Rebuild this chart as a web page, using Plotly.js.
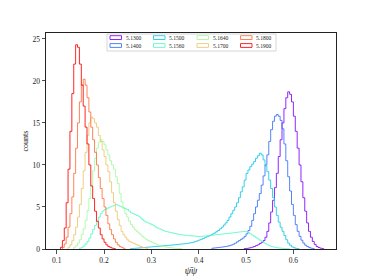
<!DOCTYPE html>
<html>
<head>
<meta charset="utf-8">
<script src="https://cdn.plot.ly/plotly-3.0.1.min.js"></script>
<style>html,body{margin:0;padding:0;background:#fff;}#chart{width:374px;height:280px;}</style>
</head>
<body>
<div id="chart"></div>
<script>
// ---- data (histogram counts, bin width shared) ----
const binWidth = 0.004;
const labels = ['5.1300', '5.1400', '5.1500', '5.1560', '5.1640', '5.1700', '5.1800', '5.1900'];
const colors = ['#8000ff', '#376ff9', '#12c8e6', '#5bf9c7', '#a4f99f', '#edc76f', '#ff6f39', '#ff0000'];
const binStarts = [0.496, 0.428, 0.256, 0.148, 0.136, 0.124, 0.112, 0.108];

const counts_5130 = [0.05, 0.07, 0.1, 0.16, 0.22, 0.3, 0.4, 0.5, 0.65, 0.8, 1.0, 1.4, 2.1, 3.1, 4.4, 5.8, 7.3, 9.0, 11.0, 13.0, 15.0, 16.7, 18.0, 18.7, 18.4, 17.5, 15.8, 14.0, 12.0, 10.0, 8.0, 6.1, 4.5, 3.1, 2.1, 1.4, 0.9, 0.55, 0.3, 0.18, 0.1, 0.05];
const counts_5140 = [0.1, 0.12, 0.15, 0.18, 0.2, 0.23, 0.27, 0.3, 0.35, 0.4, 0.48, 0.58, 0.7, 0.85, 1.0, 1.15, 1.3, 1.5, 1.8, 2.2, 2.7, 3.4, 4.2, 5.0, 5.8, 6.6, 7.6, 8.7, 10.0, 11.2, 12.8, 14.2, 15.2, 15.8, 16.0, 15.8, 15.3, 14.3, 12.5, 10.5, 8.6, 6.9, 5.3, 4.0, 2.9, 2.1, 1.5, 1.05, 0.7, 0.45, 0.3, 0.18, 0.1, 0.05];
const counts_5150 = [0.05, 0.07, 0.08, 0.1, 0.12, 0.14, 0.16, 0.18, 0.2, 0.22, 0.24, 0.26, 0.28, 0.3, 0.32, 0.34, 0.36, 0.38, 0.4, 0.42, 0.44, 0.46, 0.48, 0.5, 0.52, 0.55, 0.58, 0.6, 0.62, 0.65, 0.68, 0.72, 0.76, 0.82, 0.9, 0.98, 1.07, 1.15, 1.25, 1.35, 1.45, 1.55, 1.65, 1.78, 1.9, 2.05, 2.2, 2.4, 2.6, 2.85, 3.1, 3.4, 3.8, 4.2, 4.6, 5.0, 5.5, 6.1, 6.8, 7.4, 8.2, 9.0, 9.4, 9.8, 10.1, 10.4, 10.8, 11.1, 11.4, 11.2, 10.6, 9.9, 9.2, 8.2, 7.2, 6.1, 5.0, 4.0, 3.2, 2.6, 2.1, 1.6, 1.1, 0.7, 0.45, 0.25, 0.15, 0.08, 0.04];
const counts_5156 = [0.1, 0.2, 0.35, 0.6, 0.9, 1.3, 1.8, 2.3, 2.8, 3.3, 3.8, 4.2, 4.5, 4.7, 4.8, 4.9, 5.0, 5.1, 5.2, 5.3, 5.2, 5.1, 5.0, 4.9, 4.8, 4.7, 4.5, 4.3, 4.2, 4.1, 4.0, 3.9, 3.7, 3.5, 3.3, 3.2, 3.1, 3.0, 2.9, 2.75, 2.6, 2.5, 2.4, 2.3, 2.2, 2.1, 2.05, 2.0, 1.95, 1.9, 1.85, 1.8, 1.75, 1.7, 1.68, 1.65, 1.62, 1.6, 1.58, 1.56, 1.55, 1.52, 1.5, 1.5, 1.5, 1.52, 1.55, 1.58, 1.6, 1.62, 1.65, 1.68, 1.7, 1.72, 1.75, 1.78, 1.8, 1.83, 1.86, 1.88, 1.9, 1.93, 1.96, 2.0, 2.02, 2.05, 2.07, 2.08, 2.05, 1.95, 1.8, 1.65, 1.5, 1.35, 1.2, 1.05, 0.9, 0.75, 0.62, 0.5, 0.4, 0.32, 0.25, 0.2, 0.15, 0.12, 0.1, 0.08, 0.06, 0.04, 0.03];
const counts_5164 = [0.2, 0.4, 0.7, 1.1, 1.7, 2.4, 3.4, 4.6, 6, 7.6, 9.3, 10.8, 12, 12.7, 13, 12.8, 12.4, 11.8, 11.2, 10.5, 10, 9.5, 8.6, 7.8, 6.6, 5.6, 4.8, 4.2, 3.8, 3.3, 2.9, 2.6, 2.3, 2.1, 1.9, 1.7, 1.5, 1.3, 1.15, 1.0, 0.9, 0.8, 0.7, 0.6, 0.5, 0.42, 0.35, 0.3, 0.25, 0.2, 0.17, 0.14, 0.12, 0.1, 0.08, 0.06, 0.05];
const counts_5170 = [0.2, 0.5, 1.0, 1.7, 2.6, 3.8, 5.3, 7.2, 9.3, 11.5, 13.5, 15, 15.7, 15.5, 15, 14.5, 13.5, 12.8, 11.8, 11, 10, 9.2, 8, 6.7, 5.5, 4.5, 3.5, 2.8, 2.1, 1.7, 1.4, 1.1, 0.9, 0.8, 0.7, 0.6, 0.5, 0.4, 0.3, 0.2, 0.15, 0.1];
const counts_5180 = [0.2, 0.6, 1.4, 2.6, 4.2, 6.2, 9, 12, 15, 17.5, 19.5, 20.2, 19.5, 18, 16.3, 14.5, 13, 11.5, 10, 8.5, 7.2, 6, 5, 4, 3, 2.3, 1.7, 1.2, 0.8, 0.5, 0.3, 0.2, 0.1];
const counts_5190 = [0.2, 1.0, 2.5, 5.5, 9.5, 14, 18.5, 22, 24.3, 24.0, 22, 19.5, 17, 14.5, 12.5, 10, 7.5, 6, 4.5, 3.3, 2.5, 1.7, 1.2, 0.8, 0.5, 0.3, 0.2, 0.1, 0.05];

const allCounts = [counts_5130, counts_5140, counts_5150, counts_5156, counts_5164, counts_5170, counts_5180, counts_5190];

const xTickVals = [0.1, 0.2, 0.3, 0.4, 0.5, 0.6];
const yTickVals = [0, 5, 10, 15, 20, 25];

// ---- layout geometry (pixels) ----
const W = 374, H = 280;
const M = {l: 46, r: 38, t: 33, b: 31};
const pw = W - M.l - M.r, ph = H - M.t - M.b;
const px2x = p => (p - M.l) / pw;
const py2y = p => (H - M.b - p) / ph;

const font = 'Liberation Serif, DejaVu Serif, serif';

const traces = allCounts.map((c, k) => {
  const s = binStarts[k];
  const x = [s], y = [0];
  for (let i = 0; i < c.length; i++) { x.push(s + i * binWidth); y.push(c[i]); }
  x.push(s + c.length * binWidth); y.push(0);
  return {
    type: 'scatter', mode: 'lines', x: x, y: y, name: labels[k],
    line: {shape: 'hv', color: colors[k], width: 1},
    opacity: 0.85, showlegend: false, hoverinfo: 'skip'
  };
});

// ---- legend built from labels/colors ----
const shapes = [{
  type: 'rect', xref: 'paper', yref: 'paper',
  x0: px2x(107), x1: px2x(276), y0: py2y(51), y1: py2y(34),
  line: {color: '#cccccc', width: 0.8}, fillcolor: 'rgba(255,255,255,0.8)'
}];
const annotations = [];
const colLeft = [110, 153.5, 197, 240.5];
const rowMid = [37.6, 45.5];
labels.forEach((lab, i) => {
  const c = Math.floor(i / 2), r = i % 2;
  shapes.push({
    type: 'rect', xref: 'paper', yref: 'paper',
    x0: px2x(colLeft[c]), x1: px2x(colLeft[c] + 11.5),
    y0: py2y(rowMid[r] + 1.9), y1: py2y(rowMid[r] - 1.9),
    line: {color: colors[i], width: 1}, fillcolor: 'rgba(0,0,0,0)', opacity: 0.85
  });
  annotations.push({
    xref: 'paper', yref: 'paper', x: px2x(colLeft[c] + 14.5), y: py2y(rowMid[r]),
    xanchor: 'left', yanchor: 'middle', showarrow: false, text: lab,
    font: {family: font, size: 5.5, color: '#222'}, borderpad: 0
  });
});

const layout = {
  width: W, height: H,
  margin: M,
  paper_bgcolor: '#fff', plot_bgcolor: '#fff',
  showlegend: false,
  font: {family: font, size: 7.5, color: '#222'},
  xaxis: {
    range: [0.0774, 0.690], tickvals: xTickVals, ticktext: xTickVals.map(v => v.toFixed(1)),
    showgrid: false, zeroline: false, showline: true, mirror: true, linecolor: '#222', linewidth: 1,
    ticks: 'outside', ticklen: 3.5, tickwidth: 0.8, tickcolor: '#222',
    tickfont: {family: font, size: 7.5, color: '#222'},
    title: {text: '<i>ψ̄ψ</i>', font: {family: font, size: 10, color: '#222'}, standoff: 2}
  },
  yaxis: {
    range: [0, 25.7], tickvals: yTickVals,
    showgrid: false, zeroline: false, showline: true, mirror: true, linecolor: '#222', linewidth: 1,
    ticks: 'outside', ticklen: 3.5, tickwidth: 0.8, tickcolor: '#222',
    tickfont: {family: font, size: 7.5, color: '#222'},
    title: {text: 'counts', font: {family: font, size: 8, color: '#222'}, standoff: 2}
  },
  shapes: shapes,
  annotations: annotations
};

Plotly.newPlot('chart', traces, layout, {displayModeBar: false, staticPlot: true});
</script>
</body>
</html>
